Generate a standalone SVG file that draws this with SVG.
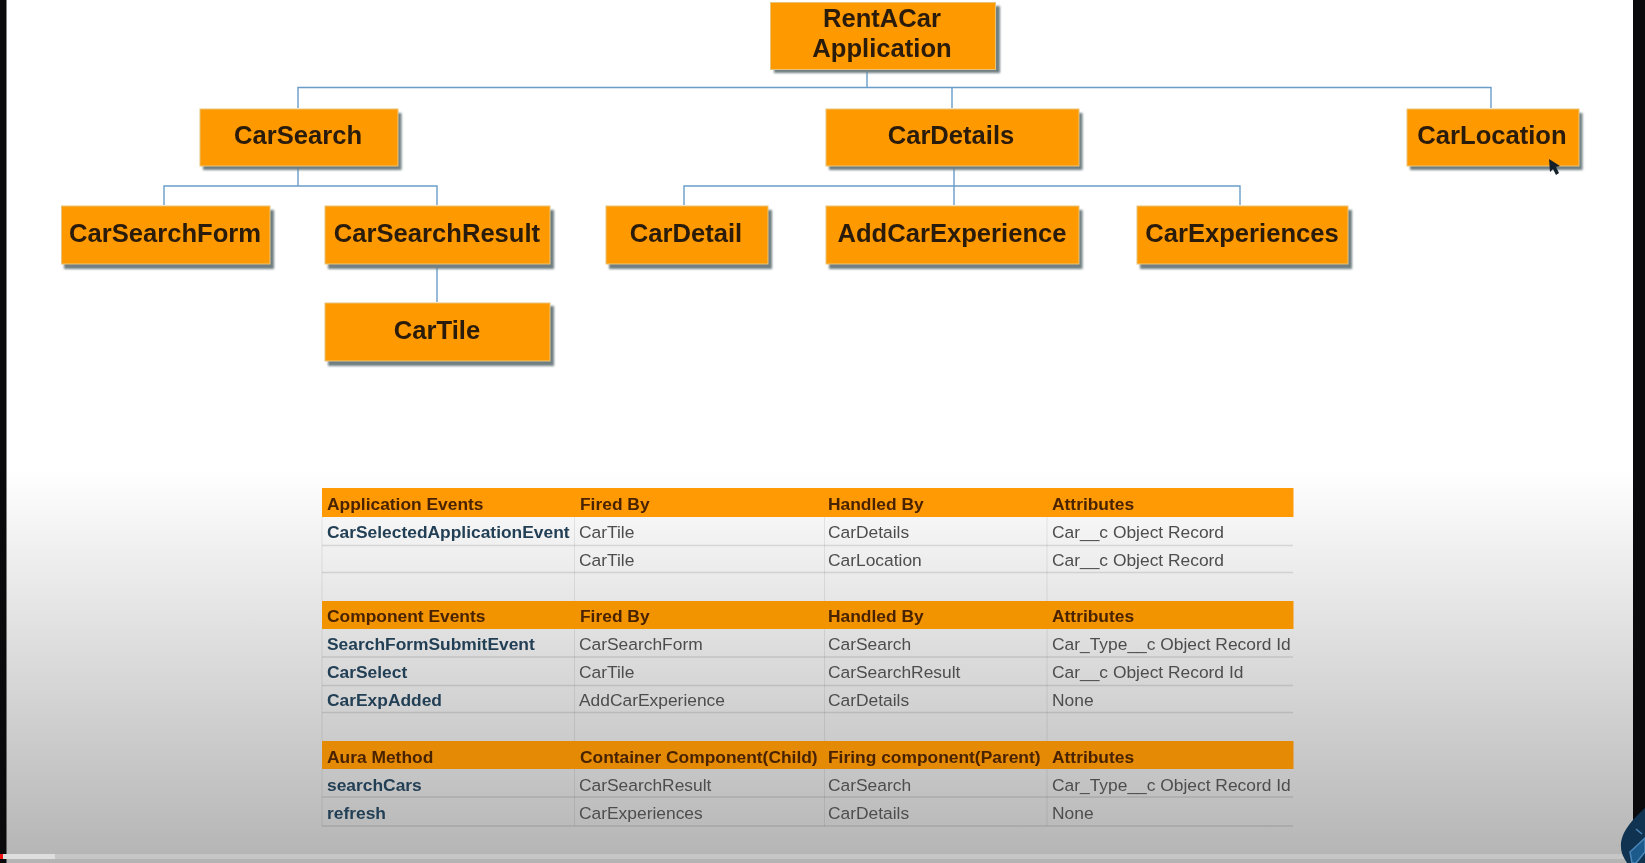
<svg xmlns="http://www.w3.org/2000/svg" width="1645" height="863" viewBox="0 0 1645 863">
<defs>
<linearGradient id="bg" x1="0" y1="0" x2="0" y2="1"><stop offset="0" stop-color="#ffffff"/><stop offset="1" stop-color="#b4b4b4"/></linearGradient>
<filter id="soft" x="-5%" y="-5%" width="110%" height="110%"><feGaussianBlur stdDeviation="0.45"/></filter>
<filter id="softer" x="-10%" y="-10%" width="120%" height="130%"><feGaussianBlur stdDeviation="1"/></filter>
</defs>
<style>
.n{fill:#ff9900;stroke:#e8c47a;stroke-width:1}
.s{fill:#6f7f82;filter:url(#softer)}
.t{font:bold 25.6px "Liberation Sans",Arial,sans-serif;fill:#2a1a08;text-anchor:middle;filter:url(#soft)}
.c{fill:none;stroke:#6a9cc9;stroke-width:1.4}
.h{font:bold 17.4px "Liberation Sans",Arial,sans-serif;fill:#4a2400;filter:url(#soft)}
.k{font:bold 17.4px "Liberation Sans",Arial,sans-serif;fill:#243f55;filter:url(#soft)}
.d{font:17.4px "Liberation Sans",Arial,sans-serif;fill:#4d4d4d;filter:url(#soft)}
.g{stroke:#000;stroke-opacity:.11;stroke-width:1.4;fill:none}
.v{stroke:#000;stroke-opacity:.08;stroke-width:1;fill:none}
</style>
<rect width="1645" height="480" fill="#fff"/>
<rect y="470" width="1645" height="393" fill="url(#bg)"/>
<rect x="0" y="0" width="6.5" height="863" fill="#0a0a0c"/>
<rect x="1633" y="0" width="12" height="863" fill="#0a0a0c"/>

<g id="connectors">
<path class="c" d="M867 70V87.5M298 108V87.5H1491V108M952 87.5V108"/>
<path class="c" d="M298 168V186M164 205V186H437V205"/>
<path class="c" d="M437 267V302"/>
<path class="c" d="M954 168V205M684 205V186H1240V205"/>
</g>

<g id="node-rentacar"><rect class="s" x="774" y="6" width="226" height="67"/><rect class="n" x="770.5" y="2.5" width="225" height="67"/><text class="t" x="882" y="27">RentACar</text><text class="t" x="882" y="57">Application</text></g>
<g id="node-carsearch"><rect class="s" x="203" y="113" width="198.5" height="57"/><rect class="n" x="200" y="109" width="198" height="57"/><text class="t" x="298" y="144">CarSearch</text></g>
<g id="node-cardetails"><rect class="s" x="829" y="113" width="253.5" height="57"/><rect class="n" x="826" y="109" width="253" height="57"/><text class="t" x="951" y="144">CarDetails</text></g>
<g id="node-carlocation"><rect class="s" x="1410" y="113" width="172.5" height="57"/><rect class="n" x="1407" y="109" width="172" height="57"/><text class="t" x="1492" y="144">CarLocation</text></g>
<g id="node-carsearchform"><rect class="s" x="64" y="210" width="210" height="59"/><rect class="n" x="61.5" y="206" width="208.5" height="58"/><text class="t" x="165" y="242">CarSearchForm</text></g>
<g id="node-carsearchresult"><rect class="s" x="328" y="210" width="226" height="59"/><rect class="n" x="325" y="206" width="225" height="58"/><text class="t" x="437" y="242">CarSearchResult</text></g>
<g id="node-cardetail"><rect class="s" x="609" y="210" width="163" height="59"/><rect class="n" x="606" y="206" width="162" height="58"/><text class="t" x="686" y="242">CarDetail</text></g>
<g id="node-addcarexperience"><rect class="s" x="829" y="210" width="253.5" height="59"/><rect class="n" x="826" y="206" width="253" height="58"/><text class="t" x="952" y="242">AddCarExperience</text></g>
<g id="node-carexperiences"><rect class="s" x="1140" y="210" width="212" height="59"/><rect class="n" x="1137" y="206" width="211" height="58"/><text class="t" x="1242" y="242">CarExperiences</text></g>
<g id="node-cartile"><rect class="s" x="328" y="306" width="226" height="60"/><rect class="n" x="325" y="303" width="225" height="58"/><text class="t" x="437" y="339">CarTile</text></g>

<g id="table">
<rect x="322" y="488" width="971.5" height="29" fill="#ff9a05"/>
<rect x="322" y="601" width="971.5" height="28" fill="#f29300"/>
<rect x="322" y="741" width="971.5" height="28" fill="#e48a05"/>
<path class="g" d="M322 545.5H1293M322 572.5H1293M322 657H1293M322 685.5H1293M322 712.5H1293M322 797H1293M322 826H1293"/>
<path class="v" d="M322 517V601M322 629V741M322 769V826M574.5 517V601M574.5 629V741M574.5 769V826M824.5 517V601M824.5 629V741M824.5 769V826M1047 517V601M1047 629V741M1047 769V826"/>

<g class="h"><text x="327" y="510">Application Events</text><text x="580" y="510">Fired By</text><text x="828" y="510">Handled By</text><text x="1052" y="510">Attributes</text>
<text x="327" y="622">Component Events</text><text x="580" y="622">Fired By</text><text x="828" y="622">Handled By</text><text x="1052" y="622">Attributes</text>
<text x="327" y="763">Aura Method</text><text x="580" y="763">Container Component(Child)</text><text x="828" y="763">Firing component(Parent)</text><text x="1052" y="763">Attributes</text></g>

<g class="k"><text x="327" y="538">CarSelectedApplicationEvent</text>
<text x="327" y="650">SearchFormSubmitEvent</text><text x="327" y="678">CarSelect</text><text x="327" y="706">CarExpAdded</text>
<text x="327" y="790.5">searchCars</text><text x="327" y="819">refresh</text></g>

<g class="d"><text x="579" y="538">CarTile</text><text x="828" y="538">CarDetails</text><text x="1052" y="538">Car__c Object Record</text>
<text x="579" y="566">CarTile</text><text x="828" y="566">CarLocation</text><text x="1052" y="566">Car__c Object Record</text>
<text x="579" y="650">CarSearchForm</text><text x="828" y="650">CarSearch</text><text x="1052" y="650">Car_Type__c Object Record Id</text>
<text x="579" y="678">CarTile</text><text x="828" y="678">CarSearchResult</text><text x="1052" y="678">Car__c Object Record Id</text>
<text x="579" y="706">AddCarExperience</text><text x="828" y="706">CarDetails</text><text x="1052" y="706">None</text>
<text x="579" y="790.5">CarSearchResult</text><text x="828" y="790.5">CarSearch</text><text x="1052" y="790.5">Car_Type__c Object Record Id</text>
<text x="579" y="819">CarExperiences</text><text x="828" y="819">CarDetails</text><text x="1052" y="819">None</text></g>
</g>

<path d="M1549 159L1550 172L1553 169L1556 175L1559 173L1556 167L1560 166Z" fill="#14202a"/>
<rect x="6.5" y="854" width="1626.5" height="5" fill="#c6c6c6"/>
<rect x="0" y="854" width="55" height="5" fill="#dedede"/>
<rect x="0" y="854" width="3" height="5" fill="#f01010"/>
<path d="M1645 808C1634 818 1620 832 1621 847C1621 853 1624 858 1627 863H1645Z" fill="#0f3350"/>
<path d="M1636 829L1642 834M1630 852L1645 838V852L1636 863H1632Z" stroke="#4a86b8" stroke-width="1.5" fill="#1d5a8c"/>
</svg>
